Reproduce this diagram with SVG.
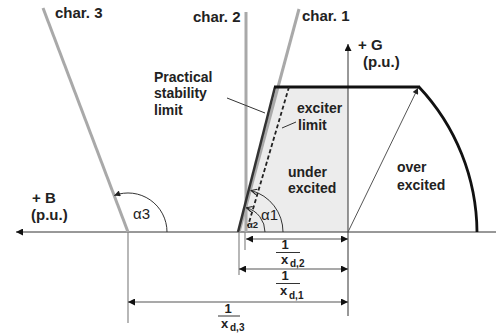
<svg xmlns="http://www.w3.org/2000/svg" width="496" height="334" viewBox="0 0 496 334">
<defs>
<marker id="ah" viewBox="0 0 10 10" refX="10" refY="5" markerWidth="9" markerHeight="7" markerUnits="userSpaceOnUse" orient="auto-start-reverse">
<path d="M0,0 L10,5 L0,10 z" fill="#111"/>
</marker>
<marker id="ahs" viewBox="0 0 10 10" refX="10" refY="5" markerWidth="7" markerHeight="6" markerUnits="userSpaceOnUse" orient="auto">
<path d="M0,0 L10,5 L0,10 z" fill="#222"/>
</marker>
<marker id="aho" viewBox="0 0 10 10" refX="9" refY="5" markerWidth="7" markerHeight="7" markerUnits="userSpaceOnUse" orient="auto">
<path d="M1,1 L9,5 L1,9" fill="none" stroke="#222" stroke-width="1.6"/>
</marker>
</defs>
<style>
text{font-family:"Liberation Sans",Arial,sans-serif;fill:#222}
.b{font-weight:bold;font-size:15px}
.m{font-weight:bold;font-size:14px}
.f{font-weight:bold;font-size:13px}
.g{font-size:15px}
.sub{font-weight:bold;font-size:10px}
.char{stroke:#a9a9a9;stroke-width:3;fill:none}
.thin{stroke:#333;stroke-width:1;fill:none}
.ext{stroke:#888;stroke-width:1.2;fill:none}
.dim{stroke:#555;stroke-width:1.2;fill:none;marker-start:url(#ah);marker-end:url(#ah)}
.arc{stroke:#333;stroke-width:1;fill:none}
</style>

<g id="region-under-excited">
<polygon points="275,87 348,87 348,232 238,232" fill="#ececec"/>
</g>

<g id="axes">
<line x1="496" y1="232" x2="16" y2="232" stroke="#333" stroke-width="1" marker-end="url(#ah)"/>
<line x1="348" y1="316" x2="348" y2="44" stroke="#333" stroke-width="1" marker-end="url(#ah)"/>
</g>

<g id="char3">
<line class="char" x1="43" y1="8" x2="128" y2="232"/>
<text class="b" x="55" y="18">char. 3</text>
</g>
<g id="char2">
<line class="char" x1="246" y1="12" x2="246" y2="232"/>
<text class="b" x="193" y="22">char. 2</text>
</g>
<g id="char1">
<line class="char" x1="299" y1="9" x2="239" y2="232"/>
<text class="b" x="302" y="21">char. 1</text>
</g>

<g id="capability">
<line x1="238" y1="232" x2="275" y2="87" stroke="#333" stroke-width="2.5"/>
<line x1="274" y1="87" x2="420" y2="87" stroke="#111" stroke-width="3"/>
<path d="M419,87 A214,214 0 0 1 477,232" fill="none" stroke="#111" stroke-width="2.8"/>
</g>

<g id="exciter-limit">
<line x1="289" y1="87" x2="248" y2="226" stroke="#222" stroke-width="1.8" stroke-dasharray="4,2.5"/>
<text class="m" x="297" y="113">exciter</text>
<text class="m" x="298" y="130">limit</text>
</g>

<g id="practical-stability-limit">
<text class="m" x="154" y="82">Practical</text>
<text class="m" x="154" y="98">stability</text>
<text class="m" x="154" y="115">limit</text>
</g>

<g id="labels">
<text class="m" x="288" y="177">under</text>
<text class="m" x="288" y="193">excited</text>
<text class="m" x="397" y="172">over</text>
<text class="m" x="397" y="190">excited</text>
<text class="b" x="358" y="50">+ G</text>
<text class="b" x="363" y="67">(p.u.)</text>
<text class="b" x="32" y="203">+ B</text>
<text class="b" x="31" y="220">(p.u.)</text>
<text class="g" x="133" y="219">α3</text>
<text class="g" x="261" y="220">α1</text>
<text x="247" y="228" style="font-size:9.5px;font-weight:bold">α2</text>
</g>

<g id="dimensions">
<line class="ext" x1="128" y1="232" x2="128" y2="323"/>
<line class="ext" x1="239" y1="232" x2="239" y2="275"/>
<line class="ext" x1="245" y1="232" x2="245" y2="250"/>
<text class="f" x="285" y="249" text-anchor="middle">1</text>
<line x1="276" y1="252.5" x2="300" y2="252.5" stroke="#333" stroke-width="1"/>
<text class="f" x="281" y="264">x</text><text class="sub" x="290" y="267">d,2</text>
<text class="f" x="285" y="279.5" text-anchor="middle">1</text>
<line x1="276" y1="283.5" x2="300" y2="283.5" stroke="#333" stroke-width="1"/>
<text class="f" x="280" y="295">x</text><text class="sub" x="289" y="299">d,1</text>
<text class="f" x="228" y="312.5" text-anchor="middle">1</text>
<line x1="218" y1="316" x2="240" y2="316" stroke="#333" stroke-width="1"/>
<text class="f" x="221" y="328">x</text><text class="sub" x="230" y="331">d,3</text>
</g>

<g id="connectors">
<line class="thin" x1="227" y1="98" x2="265" y2="113"/>
<line class="thin" x1="296" y1="122" x2="282" y2="128"/>
<line x1="348" y1="232" x2="418" y2="88" stroke="#555" stroke-width="1" marker-end="url(#ahs)"/>
<path class="arc" d="M167,232 A39,39 0 0 0 114.2,195.5" marker-end="url(#ahs)"/>
<path class="arc" d="M283,232 A43,43 0 0 0 251.2,190.5" marker-end="url(#aho)"/>
<path class="arc" d="M265,232 A25,25 0 0 0 246.5,207.8" marker-end="url(#aho)"/>
<line class="dim" x1="246" y1="239" x2="348" y2="239"/>
<line class="dim" x1="239" y1="269" x2="348" y2="269"/>
<line class="dim" x1="128" y1="302" x2="348" y2="302"/>
</g>
</svg>
